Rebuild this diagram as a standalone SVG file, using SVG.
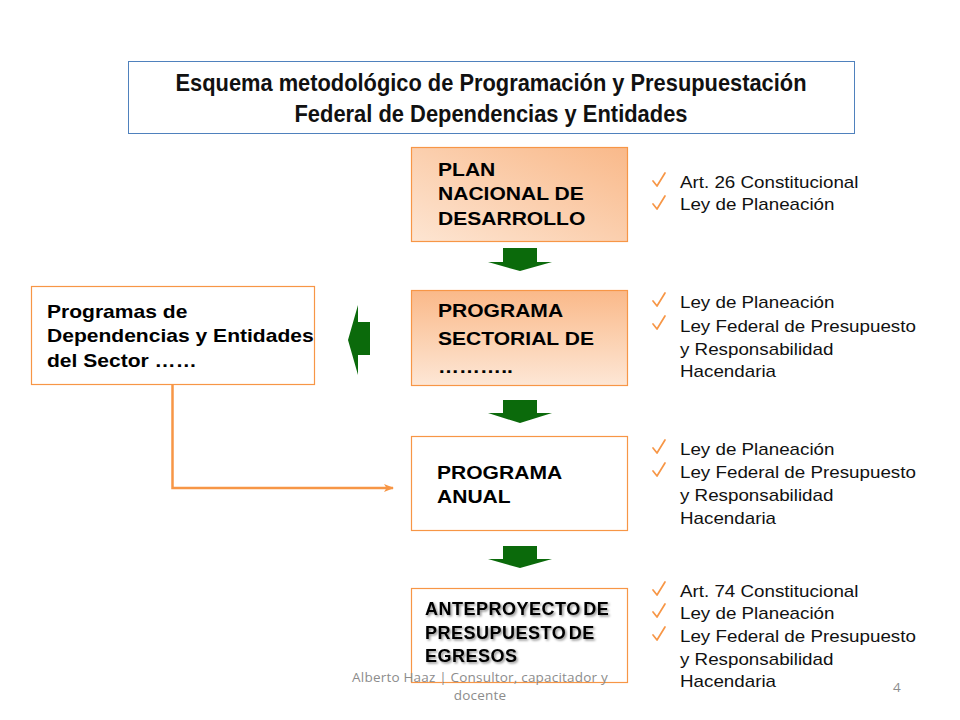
<svg xmlns="http://www.w3.org/2000/svg" width="960" height="720" viewBox="0 0 960 720">
<defs>
<style>
.box{stroke:#F79646;stroke-width:1.2}
.t{font-family:"Liberation Sans",Arial,sans-serif;font-weight:bold;font-size:18px;fill:#000}
.ttl{font-family:"Liberation Sans",Arial,sans-serif;font-weight:bold;font-size:24px;fill:#111;text-anchor:middle}
.r{font-family:"Liberation Sans",Arial,sans-serif;font-size:17px;fill:#111}
.ft{font-family:"Open Sans","Liberation Sans",sans-serif;font-size:13.5px;letter-spacing:0.2px;fill:#8c8c8c}
.ant{font-family:"Liberation Sans",Arial,sans-serif;font-weight:bold;font-size:18px;fill:#000;letter-spacing:0.5px;word-spacing:-3px}
.arr{fill:#0B6A0B}
.chk{fill:none;stroke:#F79646;stroke-width:1.7;stroke-linecap:round;stroke-linejoin:round}
</style>
<linearGradient id="g1" x1="1" y1="0" x2="0" y2="1">
<stop offset="0" stop-color="#F9B98A"/>
<stop offset="1" stop-color="#FDE5D2"/>
</linearGradient>
<linearGradient id="g2" x1="0" y1="0" x2="0" y2="1">
<stop offset="0" stop-color="#FAB989"/>
<stop offset="1" stop-color="#FDE7D6"/>
</linearGradient>
<filter id="sh" x="-5%" y="-20%" width="110%" height="140%">
<feDropShadow dx="1.5" dy="1.5" stdDeviation="0.8" flood-color="#000" flood-opacity="0.45"/>
</filter>
<marker id="oa" markerWidth="10" markerHeight="8" refX="9" refY="4" orient="auto" markerUnits="userSpaceOnUse">
<path d="M0,0 L10,4 L0,8 L2.5,4 Z" fill="#F79646"/>
</marker>
<symbol id="ck" viewBox="0 0 14 16" overflow="visible">
<path class="chk" d="M1,9 L5,14 L13,1"/>
</symbol>
</defs>

<g id="title">
<rect x="128.5" y="61.5" width="726" height="72" fill="#fff" stroke="#4F81BD" stroke-width="1"/>
<text class="ttl" x="491" y="91" textLength="631" lengthAdjust="spacingAndGlyphs">Esquema metodológico de Programación y Presupuestación</text>
<text class="ttl" x="491" y="122" textLength="393" lengthAdjust="spacingAndGlyphs">Federal de Dependencias y Entidades</text>
</g>

<g id="plan">
<rect class="box" x="411.5" y="147.5" width="216" height="94" fill="url(#g1)"/>
<g transform="matrix(1.17,0,0,1,-74.46,0)">
<text class="t" x="438" y="176">PLAN</text>
<text class="t" x="438" y="200">NACIONAL DE</text>
<text class="t" x="438" y="225">DESARROLLO</text>
</g>
</g>

<g id="sectorial">
<rect class="box" x="411.5" y="290.5" width="216" height="95" fill="url(#g2)"/>
<g transform="matrix(1.17,0,0,1,-74.46,0)">
<text class="t" x="438" y="317">PROGRAMA</text>
<text class="t" x="438" y="345">SECTORIAL DE</text>
<text class="t" x="438" y="373">………..</text>
</g>
</g>

<g id="dependencias">
<rect class="box" x="31.5" y="286.5" width="283" height="98" fill="#fff"/>
<g transform="matrix(1.17,0,0,1,-7.99,0)">
<text class="t" x="47" y="318">Programas de</text>
<text class="t" x="47" y="342">Dependencias y Entidades</text>
<text class="t" x="47" y="367">del Sector ……</text>
</g>
</g>

<g id="anual">
<rect class="box" x="411.5" y="436.5" width="216" height="94" fill="#fff"/>
<g transform="matrix(1.17,0,0,1,-74.29,0)">
<text class="t" x="437" y="479">PROGRAMA</text>
<text class="t" x="437" y="503">ANUAL</text>
</g>
</g>

<g id="anteproyecto">
<rect class="box" x="411.5" y="588.5" width="216" height="94" fill="#fff"/>
<g filter="url(#sh)">
<text class="ant" x="425" y="615">ANTEPROYECTO DE</text>
<text class="ant" x="425" y="639">PRESUPUESTO DE</text>
<text class="ant" x="425" y="662">EGRESOS</text>
</g>
</g>

<g id="connectors">
<path class="arr" d="M503,248 H537 V262 H552 L520,271 L488,262 H503 Z"/>
<path class="arr" d="M503,400 H537 V413 H552 L520,423 L488,413 H503 Z"/>
<path class="arr" d="M503,546 H537 V559 H552 L520,568 L488,559 H503 Z"/>
<path class="arr" d="M370,322 V355 H358 V375 L348,340 L358,305 V322 Z"/>
<path d="M172.5,385 V488 H393" fill="none" stroke="#F79646" stroke-width="2.5" marker-end="url(#oa)"/>
</g>

<g id="refs1">
<use href="#ck" x="652" y="172" width="14" height="16"/>
<use href="#ck" x="652" y="195" width="14" height="16"/>
<g transform="matrix(1.105,0,0,1,-71.4,0)">
<text class="r" x="680" y="188">Art. 26 Constitucional</text>
<text class="r" x="680" y="210">Ley de Planeación</text>
</g>
</g>

<g id="refs2">
<use href="#ck" x="652" y="292" width="14" height="16"/>
<use href="#ck" x="652" y="315" width="14" height="16"/>
<g transform="matrix(1.105,0,0,1,-71.4,0)">
<text class="r" x="680" y="308">Ley de Planeación</text>
<text class="r" x="680" y="332">Ley Federal de Presupuesto</text>
<text class="r" x="680" y="355">y Responsabilidad</text>
<text class="r" x="680" y="377">Hacendaria</text>
</g>
</g>

<g id="refs3">
<use href="#ck" x="652" y="439" width="14" height="16"/>
<use href="#ck" x="652" y="462" width="14" height="16"/>
<g transform="matrix(1.105,0,0,1,-71.4,0)">
<text class="r" x="680" y="455">Ley de Planeación</text>
<text class="r" x="680" y="478">Ley Federal de Presupuesto</text>
<text class="r" x="680" y="501">y Responsabilidad</text>
<text class="r" x="680" y="524">Hacendaria</text>
</g>
</g>

<g id="refs4">
<use href="#ck" x="652" y="581" width="14" height="16"/>
<use href="#ck" x="652" y="603" width="14" height="16"/>
<use href="#ck" x="652" y="626" width="14" height="16"/>
<g transform="matrix(1.105,0,0,1,-71.4,0)">
<text class="r" x="680" y="597">Art. 74 Constitucional</text>
<text class="r" x="680" y="619">Ley de Planeación</text>
<text class="r" x="680" y="642">Ley Federal de Presupuesto</text>
<text class="r" x="680" y="665">y Responsabilidad</text>
<text class="r" x="680" y="687">Hacendaria</text>
</g>
</g>

<g id="footer">
<text class="ft" x="480" y="682" text-anchor="middle">Alberto Haaz | Consultor, capacitador y</text>
<text class="ft" x="480" y="700" text-anchor="middle">docente</text>
<text class="ft" x="897" y="692" text-anchor="middle">4</text>
</g>
</svg>
